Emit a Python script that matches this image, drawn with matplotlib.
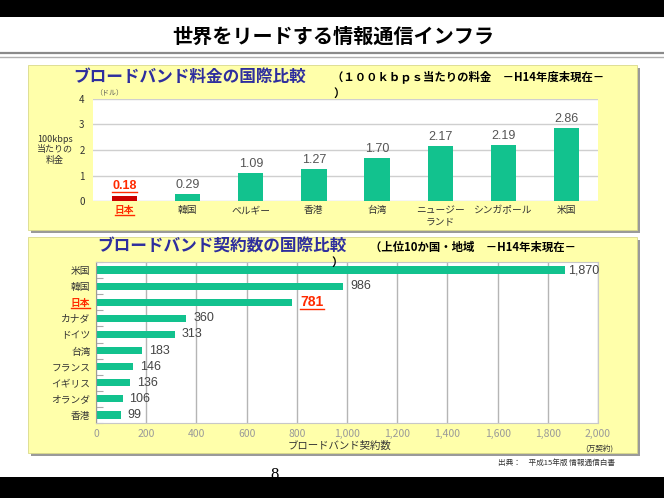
import numpy as np
import matplotlib.pyplot as plt
from matplotlib.patches import Rectangle
from matplotlib.lines import Line2D

plt.rcParams['font.family'] = ['Noto Sans CJK JP', 'DejaVu Sans']

# 100kbps当たりの料金（ドル）
price_countries = ['日本', '韓国', 'ベルギー', '香港', '台湾', 'ニュージー\nランド', 'シンガポール', '米国']
price_values = [0.18, 0.29, 1.09, 1.27, 1.70, 2.17, 2.19, 2.86]

# ブロードバンド契約数（万契約）
subs_countries = ['米国', '韓国', '日本', 'カナダ', 'ドイツ', '台湾', 'フランス', 'イギリス', 'オランダ', '香港']
subs_values = [1870, 986, 781, 360, 313, 183, 146, 136, 106, 99]
subs_ticks = list(range(0, 2001, 200))

W, H = 664, 498
green = '#12C28E'
yellow = '#FFFFAA'
red = '#FF2A00'
numfont = ['Liberation Sans', 'DejaVu Sans']

fig = plt.figure(figsize=(W / 100, H / 100), dpi=100)
fig.patch.set_facecolor('white')


def fx(x):
    return x / W


def fy(y):
    return 1 - y / H


def rect(x0, y0, x1, y1, **kw):
    r = Rectangle((fx(x0), fy(y1)), fx(x1 - x0), (y1 - y0) / H,
                  transform=fig.transFigure, **kw)
    fig.patches.append(r)
    return r


# black bands top / bottom
rect(0, 0, W, 17, facecolor='black', edgecolor='none', zorder=10)
rect(0, 477, W, H, facecolor='black', edgecolor='none', zorder=10)

# double rule under the title
fig.add_artist(Line2D([0, 1], [fy(53), fy(53)], color='#8a8a8a', lw=1.6, transform=fig.transFigure))
fig.add_artist(Line2D([0, 1], [fy(57.5), fy(57.5)], color='#b0b0b0', lw=1.0, transform=fig.transFigure))

fig.text(fx(333), fy(36), '世界をリードする情報通信インフラ', ha='center', va='center',
         fontsize=14.5, fontweight='bold', color='black')

# yellow panels with shadow
for (x0, y0, x1, y1) in [(28, 65, 637, 230), (28, 237, 637, 453)]:
    rect(x0 + 3, y0 + 3, x1 + 3, y1 + 3, facecolor='#9a9a9a', edgecolor='none', zorder=-2)
    rect(x0, y0, x1, y1, facecolor=yellow, edgecolor='#d9d98a', lw=0.6, zorder=-1)

underline = []

# ---------- chart 1 : price ----------
ax1 = fig.add_axes([fx(93), fy(201), (598 - 93) / W, (201 - 99) / H])
ax1.set_facecolor('white')
x = np.arange(len(price_countries))
colors1 = ['#CC0000'] + [green] * (len(price_values) - 1)
ax1.bar(x, price_values, width=0.4, color=colors1, zorder=2)
ax1.set_xlim(-0.5, len(price_countries) - 0.5)
ax1.set_ylim(0, 4)
ax1.set_yticks([0, 1, 2, 3, 4])
ax1.grid(axis='y', color='#cfcfcf', lw=1, zorder=0)
for s in ax1.spines.values():
    s.set_visible(False)
ax1.tick_params(axis='both', length=0, labelsize=7, colors='#333333')
ax1.tick_params(axis='y', pad=6)
ax1.tick_params(axis='x', pad=3)
ax1.set_xticks(x)
ax1.set_xticklabels(price_countries, fontsize=7, linespacing=1.1)
ax1.get_xticklabels()[0].set_color(red)
ax1.get_xticklabels()[0].set_fontweight('bold')
underline.append(ax1.get_xticklabels()[0])
for i, v in enumerate(price_values):
    if i == 0:
        t = ax1.annotate(f'{v:.2f}', (i, v), xytext=(0, 3), textcoords='offset points',
                         ha='center', va='bottom', fontsize=9, color=red,
                         fontweight='bold', family=numfont)
        underline.append(t)
    else:
        ax1.annotate(f'{v:.2f}', (i, v), xytext=(0, 2), textcoords='offset points',
                     ha='center', va='bottom', fontsize=9, color='#555555', family=numfont)

fig.text(fx(55), fy(150), '100kbps\n当たりの\n料金', ha='center', va='center',
         fontsize=6.5, color='#333333', linespacing=1.25)
fig.text(fx(95), fy(93), '（ドル）', ha='left', va='center', fontsize=5, color='#555555')
fig.text(fx(73), fy(77), 'ブロードバンド料金の国際比較', ha='left', va='center',
         fontsize=12, fontweight='bold', color='#2E2E9E')
fig.text(fx(332), fy(77), '（１００ｋｂｐｓ当たりの料金　－H14年度末現在－', ha='left', va='center',
         fontsize=8.2, fontweight='bold', color='black')
fig.text(fx(333), fy(93), '）', ha='left', va='center', fontsize=8.2, fontweight='bold', color='black')

# ---------- chart 2 : subscribers ----------
ax2 = fig.add_axes([fx(96), fy(423), (598 - 96) / W, (423 - 262) / H])
ax2.set_facecolor('white')
y = np.arange(len(subs_countries))
ax2.barh(y, subs_values, height=0.45, color=green, zorder=2)
ax2.set_xlim(0, 2000)
ax2.set_ylim(len(subs_countries) - 0.5, -0.5)
ax2.set_xticks(subs_ticks)
ax2.set_xticklabels([f'{t:,}' for t in subs_ticks])
ax2.set_yticks(y)
ax2.set_yticklabels(subs_countries)
ax2.set_yticks(np.arange(len(subs_countries) + 1) - 0.5, minor=True)
ax2.grid(axis='x', color='#b5b5b5', lw=1, zorder=0)
for s in ax2.spines.values():
    s.set_color('#c8c8c8')
    s.set_linewidth(0.8)
ax2.spines['left'].set_color('#9a9a9a')
ax2.tick_params(axis='x', length=0, labelsize=7.5, colors='#9a9a9a', pad=4)
ax2.tick_params(axis='y', which='major', length=0, labelsize=7, colors='#333333', pad=4)
ax2.tick_params(axis='y', which='minor', direction='in', length=5, color='#aaaaaa', width=0.8)
ax2.get_yticklabels()[2].set_color(red)
ax2.get_yticklabels()[2].set_fontweight('bold')
underline.append(ax2.get_yticklabels()[2])
for i, v in enumerate(subs_values):
    if subs_countries[i] == '日本':
        t = ax2.annotate(f'{v:,}', (v, i), xytext=(6, 0), textcoords='offset points',
                         ha='left', va='center', fontsize=10, color=red,
                         fontweight='bold', family=numfont)
        underline.append(t)
    else:
        ax2.annotate(f'{v:,}', (v, i), xytext=(2 if v > 1500 else 5, 0), textcoords='offset points',
                     ha='left', va='center', fontsize=9, color='#444444', family=numfont)

fig.text(fx(340), fy(446), 'ブロードバンド契約数', ha='center', va='center', fontsize=7.5, color='#333333')
fig.text(fx(613), fy(449), '(万契約)', ha='right', va='center', fontsize=5.5, color='#333333')
fig.text(fx(97), fy(247), 'ブロードバンド契約数の国際比較', ha='left', va='center',
         fontsize=12, fontweight='bold', color='#2E2E9E')
fig.text(fx(370), fy(247), '（上位10か国・地域　－H14年末現在－', ha='left', va='center',
         fontsize=8.2, fontweight='bold', color='black')
fig.text(fx(331), fy(262), '）', ha='left', va='center', fontsize=8.2, fontweight='bold', color='black')

# footer
fig.text(fx(615), fy(463), '出典：　平成15年版 情報通信白書', ha='right', va='center',
         fontsize=5.5, color='#333333')
fig.text(fx(275), fy(467), '8', ha='center', va='top', fontsize=12,
         family=['Liberation Serif', 'DejaVu Serif'], color='black', zorder=1)

# underline the highlighted Japan labels
fig.canvas.draw()
renderer = fig.canvas.get_renderer()
inv = fig.transFigure.inverted()
for t in underline:
    bb = t.get_window_extent(renderer)
    (x0, y0), (x1, _) = inv.transform([(bb.x0, bb.y0), (bb.x1, bb.y1)])
    fig.add_artist(Line2D([x0, x1], [y0 + 0.5 / H, y0 + 0.5 / H], color=red, lw=1,
                          transform=fig.transFigure))

fig.savefig('out.png', dpi=100)
